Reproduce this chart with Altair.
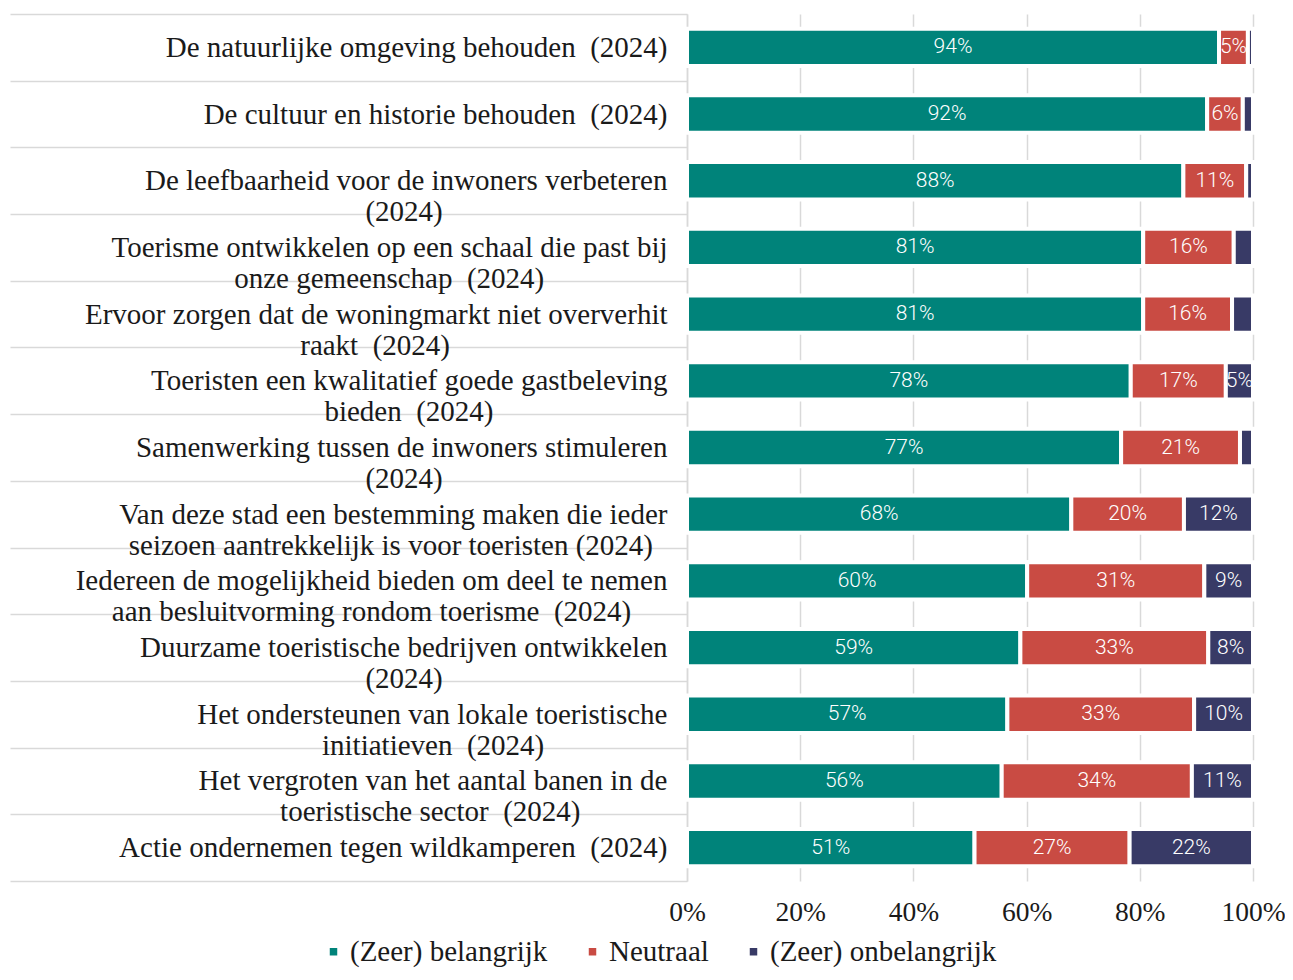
import altair as alt
import pandas as pd

# ---------------- data ----------------
categories = [
    "De natuurlijke omgeving behouden \u00a0(2024)",
    "De cultuur en historie behouden \u00a0(2024)",
    "De leefbaarheid voor de inwoners verbeteren|(2024)",
    "Toerisme ontwikkelen op een schaal die past bij|onze gemeenschap \u00a0(2024)",
    "Ervoor zorgen dat de woningmarkt niet oververhit|raakt \u00a0(2024)",
    "Toeristen een kwalitatief goede gastbeleving|bieden \u00a0(2024)",
    "Samenwerking tussen de inwoners stimuleren|(2024)",
    "Van deze stad een bestemming maken die ieder|seizoen aantrekkelijk is voor toeristen (2024)",
    "Iedereen de mogelijkheid bieden om deel te nemen|aan besluitvorming rondom toerisme \u00a0(2024)",
    "Duurzame toeristische bedrijven ontwikkelen|(2024)",
    "Het ondersteunen van lokale toeristische|initiatieven \u00a0(2024)",
    "Het vergroten van het aantal banen in de|toeristische sector \u00a0(2024)",
    "Actie ondernemen tegen wildkamperen \u00a0(2024)",
]
belangrijk = [94.0, 91.9, 87.7, 80.6, 80.6, 78.4, 76.7, 67.9, 60.1, 58.9, 56.6, 55.6, 50.8]
neutraal = [5.1, 6.3, 11.1, 16.0, 15.7, 16.8, 21.0, 19.9, 31.3, 33.2, 33.0, 33.6, 27.4]
onbelangrijk = [0.9, 1.8, 1.2, 3.4, 3.7, 4.8, 2.3, 12.2, 8.6, 7.9, 10.4, 10.8, 21.8]
series = ["(Zeer) belangrijk", "Neutraal", "(Zeer) onbelangrijk"]
colors = ["#00837A", "#C94B43", "#383A66"]
x_ticks = [0, 20, 40, 60, 80, 100]

# ---------- centre the lines of each label (Times/Liberation Serif widths) ----------
W = {" ": 250, "\u00a0": 250, "(": 333, ")": 333, "%": 833,
     "a": 444, "b": 500, "c": 444, "d": 500, "e": 444, "f": 333, "g": 500, "h": 500,
     "i": 278, "j": 278, "k": 500, "l": 278, "m": 778, "n": 500, "o": 500, "p": 500,
     "q": 500, "r": 333, "s": 389, "t": 278, "u": 500, "v": 500, "w": 722, "x": 500,
     "y": 500, "z": 444, "A": 722, "D": 722, "E": 611, "H": 722, "I": 333, "S": 556,
     "T": 611, "V": 722}


def tw(s):
    return sum(W.get(c, 500) for c in s)


def centre(label):
    lines = label.split("|")
    widths = [tw(l) for l in lines]
    m = max(widths)
    out = []
    for l, w in zip(lines, widths):
        n = round((m - w) / 2 / 250)
        # trailing no-break spaces, closed by a word joiner so they are not trimmed
        out.append(l + ("\u00a0" * n + "\u2060" if n else ""))
    return "|".join(out)


labels = [centre(c) for c in categories]

rows = []
for lab, vals in zip(labels, zip(belangrijk, neutraal, onbelangrijk)):
    for i, (s, v) in enumerate(zip(series, vals)):
        rows.append({"cat": lab, "series": s, "value": v, "order": i})
df = pd.DataFrame(rows)

FONT_SERIF = "Liberation Serif"
GRID = "#d9d9d9"
INK = "#1a1a1a"

y_enc = alt.Y(
    "cat:N",
    sort=labels,
    scale=alt.Scale(paddingInner=0, paddingOuter=0),
    axis=alt.Axis(
        title=None,
        labelFont=FONT_SERIF,
        labelFontSize=29,
        labelColor=INK,
        labelLimit=900,
        labelPadding=-657,
        labelOverlap=False,
        labelExpr="split(datum.label, '|')",
        labelLineHeight=31,
        tickSize=677,
        tickColor=GRID,
        tickWidth=1.5,
        tickBand="extent",
        domainColor=GRID,
        domainWidth=1.5,
        grid=False,
    ),
)

base = alt.Chart(df).transform_stack(
    stack="value", groupby=["cat"], as_=["v0", "v1"],
    sort=[alt.SortField("order", order="ascending")],
)

bars = base.mark_bar(stroke="white", strokeWidth=4, height={"band": 0.56}).encode(
    y=y_enc,
    x=alt.X(
        "v0:Q",
        scale=alt.Scale(domain=[0, 100], nice=False),
        axis=alt.Axis(
            values=x_ticks,
            labelExpr="datum.value + '%'",
            title=None,
            ticks=False,
            domain=False,
            grid=True,
            gridColor=GRID,
            gridWidth=1.5,
            labelFont=FONT_SERIF,
            labelFontSize=27.5,
            labelColor=INK,
            labelPadding=17,
            labelFlush=False,
        ),
    ),
    x2="v1:Q",
    color=alt.Color(
        "series:N",
        scale=alt.Scale(domain=series, range=colors),
        legend=alt.Legend(
            title=None,
            orient="none",
            legendX=-368,
            legendY=923,
            direction="horizontal",
            symbolType="square",
            symbolSize=56,
            symbolStrokeWidth=0,
            labelFont=FONT_SERIF,
            labelFontSize=29,
            labelColor=INK,
            columnPadding=30,
            labelOffset=2,
            labelLimit=500,
        ),
    ),
    order=alt.Order("order:Q"),
)

text = base.transform_filter("datum.value >= 4.5").transform_calculate(
    mid="(datum.v0 + datum.v1) / 2",
    lab="format(datum.value, '.0f') + '%'",
).mark_text(font="Roboto", fontSize=21, fontWeight=300, color="white").encode(
    y=alt.Y("cat:N", sort=labels),
    x=alt.X("mid:Q"),
    text="lab:N",
)

chart = alt.layer(bars, text).properties(
    width=566,
    height=867,
    autosize=alt.AutoSizeParams(type="none"),
    padding={"left": 679, "top": 6, "right": 32, "bottom": 90},
).configure_view(stroke=None)

chart.save("out.html", embed_options={"renderer": "svg", "actions": False})
